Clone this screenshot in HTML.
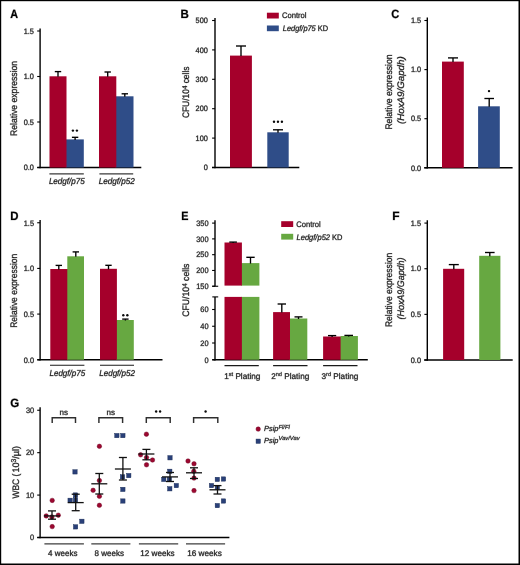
<!DOCTYPE html><html><head><meta charset="utf-8"><style>html,body{margin:0;padding:0;background:#fff;overflow:hidden;}svg{display:block;will-change:transform;} text{text-rendering:geometricPrecision;font-family:"Liberation Sans", sans-serif;}</style></head><body>
<svg width="520" height="565" viewBox="0 0 520 565">
<rect x="0.00" y="0.00" width="520.00" height="565.00" fill="#000"/>
<rect x="1.20" y="1.20" width="517.30" height="562.30" fill="#fff"/>
<g>
<text x="10.18" y="17.85" font-size="12.0" text-anchor="start" font-weight="bold" font-style="normal" fill="#000" stroke="#999" stroke-width="0.60" paint-order="stroke" textLength="7.80" lengthAdjust="spacingAndGlyphs">A</text>
<line x1="40.10" y1="28.40" x2="40.10" y2="168.20" stroke="#000" stroke-width="1.4"/>
<line x1="37.20" y1="31.00" x2="40.10" y2="31.00" stroke="#000" stroke-width="1.1"/>
<text x="33.90" y="33.75" font-size="7.8" text-anchor="end" font-weight="normal" font-style="normal" fill="#1a1a1a" stroke="#999" stroke-width="0.60" paint-order="stroke" textLength="10.19" lengthAdjust="spacingAndGlyphs">1.5</text>
<line x1="37.20" y1="76.50" x2="40.10" y2="76.50" stroke="#000" stroke-width="1.1"/>
<text x="33.90" y="79.25" font-size="7.8" text-anchor="end" font-weight="normal" font-style="normal" fill="#1a1a1a" stroke="#999" stroke-width="0.60" paint-order="stroke" textLength="10.19" lengthAdjust="spacingAndGlyphs">1.0</text>
<line x1="37.20" y1="122.00" x2="40.10" y2="122.00" stroke="#000" stroke-width="1.1"/>
<text x="33.90" y="124.75" font-size="7.8" text-anchor="end" font-weight="normal" font-style="normal" fill="#1a1a1a" stroke="#999" stroke-width="0.60" paint-order="stroke" textLength="10.19" lengthAdjust="spacingAndGlyphs">0.5</text>
<line x1="37.20" y1="167.50" x2="40.10" y2="167.50" stroke="#000" stroke-width="1.1"/>
<text x="33.90" y="170.25" font-size="7.8" text-anchor="end" font-weight="normal" font-style="normal" fill="#1a1a1a" stroke="#999" stroke-width="0.60" paint-order="stroke" textLength="10.19" lengthAdjust="spacingAndGlyphs">0.0</text>
<line x1="37.30" y1="167.50" x2="141.30" y2="167.50" stroke="#000" stroke-width="1.4"/>
<rect x="65.70" y="139.40" width="18.10" height="28.10" fill="#2f4d88"/>
<rect x="49.50" y="76.30" width="17.00" height="91.20" fill="#a5002b"/>
<rect x="115.50" y="96.30" width="18.00" height="71.20" fill="#2f4d88"/>
<rect x="99.00" y="76.30" width="17.30" height="91.20" fill="#a5002b"/>
<line x1="58.00" y1="71.60" x2="58.00" y2="76.80" stroke="#000" stroke-width="1.35"/>
<line x1="54.80" y1="71.60" x2="61.20" y2="71.60" stroke="#000" stroke-width="1.35"/>
<line x1="75.10" y1="137.30" x2="75.10" y2="139.90" stroke="#000" stroke-width="1.35"/>
<line x1="71.90" y1="137.30" x2="78.30" y2="137.30" stroke="#000" stroke-width="1.35"/>
<line x1="107.70" y1="72.00" x2="107.70" y2="76.80" stroke="#000" stroke-width="1.35"/>
<line x1="104.50" y1="72.00" x2="110.90" y2="72.00" stroke="#000" stroke-width="1.35"/>
<line x1="124.80" y1="93.80" x2="124.80" y2="96.80" stroke="#000" stroke-width="1.35"/>
<line x1="121.60" y1="93.80" x2="128.00" y2="93.80" stroke="#000" stroke-width="1.35"/>
<circle cx="72.90" cy="130.60" r="1.2" fill="#0a0a0a"/>
<circle cx="76.90" cy="130.60" r="1.2" fill="#0a0a0a"/>
<line x1="49.40" y1="173.90" x2="83.80" y2="173.90" stroke="#3a3a3a" stroke-width="1.25"/>
<line x1="99.40" y1="173.90" x2="133.20" y2="173.90" stroke="#3a3a3a" stroke-width="1.25"/>
<text x="48.90" y="184.20" font-size="8.5" text-anchor="start" font-weight="normal" font-style="italic" fill="#1a1a1a" stroke="#999" stroke-width="0.60" paint-order="stroke" textLength="35.80" lengthAdjust="spacingAndGlyphs">Ledgf/p75</text>
<text x="98.70" y="184.20" font-size="8.5" text-anchor="start" font-weight="normal" font-style="italic" fill="#1a1a1a" stroke="#999" stroke-width="0.60" paint-order="stroke" textLength="36.00" lengthAdjust="spacingAndGlyphs">Ledgf/p52</text>
<text transform="translate(17.00,135.90) rotate(-90)" x="0" y="0" font-size="9.5" font-style="normal" fill="#1a1a1a" stroke="#999" stroke-width="0.60" paint-order="stroke" textLength="75.00" lengthAdjust="spacingAndGlyphs">Relative expression</text>
<text x="180.48" y="18.00" font-size="12.0" text-anchor="start" font-weight="bold" font-style="normal" fill="#000" stroke="#999" stroke-width="0.60" paint-order="stroke" textLength="8.32" lengthAdjust="spacingAndGlyphs">B</text>
<line x1="215.00" y1="18.00" x2="215.00" y2="168.20" stroke="#000" stroke-width="1.4"/>
<line x1="212.10" y1="20.50" x2="215.00" y2="20.50" stroke="#000" stroke-width="1.1"/>
<text x="207.80" y="23.25" font-size="7.8" text-anchor="end" font-weight="normal" font-style="normal" fill="#1a1a1a" stroke="#999" stroke-width="0.60" paint-order="stroke" textLength="12.23" lengthAdjust="spacingAndGlyphs">500</text>
<line x1="212.10" y1="49.90" x2="215.00" y2="49.90" stroke="#000" stroke-width="1.1"/>
<text x="207.80" y="52.65" font-size="7.8" text-anchor="end" font-weight="normal" font-style="normal" fill="#1a1a1a" stroke="#999" stroke-width="0.60" paint-order="stroke" textLength="12.23" lengthAdjust="spacingAndGlyphs">400</text>
<line x1="212.10" y1="79.30" x2="215.00" y2="79.30" stroke="#000" stroke-width="1.1"/>
<text x="207.80" y="82.05" font-size="7.8" text-anchor="end" font-weight="normal" font-style="normal" fill="#1a1a1a" stroke="#999" stroke-width="0.60" paint-order="stroke" textLength="12.23" lengthAdjust="spacingAndGlyphs">300</text>
<line x1="212.10" y1="108.70" x2="215.00" y2="108.70" stroke="#000" stroke-width="1.1"/>
<text x="207.80" y="111.45" font-size="7.8" text-anchor="end" font-weight="normal" font-style="normal" fill="#1a1a1a" stroke="#999" stroke-width="0.60" paint-order="stroke" textLength="12.23" lengthAdjust="spacingAndGlyphs">200</text>
<line x1="212.10" y1="138.10" x2="215.00" y2="138.10" stroke="#000" stroke-width="1.1"/>
<text x="207.80" y="140.85" font-size="7.8" text-anchor="end" font-weight="normal" font-style="normal" fill="#1a1a1a" stroke="#999" stroke-width="0.60" paint-order="stroke" textLength="12.23" lengthAdjust="spacingAndGlyphs">100</text>
<line x1="212.10" y1="167.50" x2="215.00" y2="167.50" stroke="#000" stroke-width="1.1"/>
<text x="207.80" y="170.25" font-size="7.8" text-anchor="end" font-weight="normal" font-style="normal" fill="#1a1a1a" stroke="#999" stroke-width="0.60" paint-order="stroke" textLength="4.08" lengthAdjust="spacingAndGlyphs">0</text>
<line x1="212.00" y1="167.50" x2="299.30" y2="167.50" stroke="#000" stroke-width="1.4"/>
<rect x="230.00" y="55.60" width="21.90" height="111.90" fill="#a5002b"/>
<rect x="267.30" y="132.30" width="21.40" height="35.20" fill="#2f4d88"/>
<line x1="241.00" y1="46.00" x2="241.00" y2="56.10" stroke="#000" stroke-width="1.35"/>
<line x1="236.00" y1="46.00" x2="246.00" y2="46.00" stroke="#000" stroke-width="1.35"/>
<line x1="278.00" y1="129.80" x2="278.00" y2="132.80" stroke="#000" stroke-width="1.35"/>
<line x1="273.00" y1="129.80" x2="283.00" y2="129.80" stroke="#000" stroke-width="1.35"/>
<circle cx="274.00" cy="121.70" r="1.2" fill="#0a0a0a"/>
<circle cx="277.95" cy="121.70" r="1.2" fill="#0a0a0a"/>
<circle cx="281.90" cy="121.70" r="1.2" fill="#0a0a0a"/>
<rect x="266.90" y="12.70" width="11.90" height="5.80" fill="#a5002b"/>
<rect x="266.90" y="25.50" width="11.90" height="5.70" fill="#2f4d88"/>
<text x="281.90" y="18.30" font-size="8.0" text-anchor="start" font-weight="normal" font-style="normal" fill="#1a1a1a" stroke="#999" stroke-width="0.60" paint-order="stroke" textLength="24.60" lengthAdjust="spacingAndGlyphs">Control</text>
<text x="282.80" y="31.00" font-size="8.0" text-anchor="start" font-weight="normal" font-style="normal" fill="#1a1a1a" stroke="#999" stroke-width="0.60" paint-order="stroke" textLength="45.30" lengthAdjust="spacingAndGlyphs"><tspan font-style="italic">Ledgf/p75</tspan> KD</text>
<text transform="translate(188.80,118.10) rotate(-90)" x="0" y="0" font-size="9.4" font-style="normal" fill="#1a1a1a" stroke="#999" stroke-width="0.60" paint-order="stroke" textLength="51.60" lengthAdjust="spacingAndGlyphs">CFU/10<tspan font-size="6.8" dy="-2.2">4</tspan><tspan dy="2.2"> cells</tspan></text>
<text x="391.20" y="17.85" font-size="12.0" text-anchor="start" font-weight="bold" font-style="normal" fill="#000" stroke="#999" stroke-width="0.60" paint-order="stroke" textLength="7.97" lengthAdjust="spacingAndGlyphs">C</text>
<line x1="427.30" y1="17.50" x2="427.30" y2="168.50" stroke="#000" stroke-width="1.4"/>
<line x1="424.40" y1="20.50" x2="427.30" y2="20.50" stroke="#000" stroke-width="1.1"/>
<text x="421.20" y="23.25" font-size="7.8" text-anchor="end" font-weight="normal" font-style="normal" fill="#1a1a1a" stroke="#999" stroke-width="0.60" paint-order="stroke" textLength="10.19" lengthAdjust="spacingAndGlyphs">1.5</text>
<line x1="424.40" y1="69.60" x2="427.30" y2="69.60" stroke="#000" stroke-width="1.1"/>
<text x="421.20" y="72.35" font-size="7.8" text-anchor="end" font-weight="normal" font-style="normal" fill="#1a1a1a" stroke="#999" stroke-width="0.60" paint-order="stroke" textLength="10.19" lengthAdjust="spacingAndGlyphs">1.0</text>
<line x1="424.40" y1="118.70" x2="427.30" y2="118.70" stroke="#000" stroke-width="1.1"/>
<text x="421.20" y="121.45" font-size="7.8" text-anchor="end" font-weight="normal" font-style="normal" fill="#1a1a1a" stroke="#999" stroke-width="0.60" paint-order="stroke" textLength="10.19" lengthAdjust="spacingAndGlyphs">0.5</text>
<line x1="424.40" y1="167.80" x2="427.30" y2="167.80" stroke="#000" stroke-width="1.1"/>
<text x="421.20" y="170.55" font-size="7.8" text-anchor="end" font-weight="normal" font-style="normal" fill="#1a1a1a" stroke="#999" stroke-width="0.60" paint-order="stroke" textLength="10.19" lengthAdjust="spacingAndGlyphs">0.0</text>
<line x1="424.20" y1="167.80" x2="512.60" y2="167.80" stroke="#000" stroke-width="1.4"/>
<rect x="442.00" y="61.60" width="21.80" height="106.20" fill="#a5002b"/>
<rect x="478.10" y="106.30" width="21.70" height="61.50" fill="#2f4d88"/>
<line x1="453.00" y1="57.90" x2="453.00" y2="62.10" stroke="#000" stroke-width="1.35"/>
<line x1="448.00" y1="57.90" x2="458.00" y2="57.90" stroke="#000" stroke-width="1.35"/>
<line x1="489.20" y1="98.50" x2="489.20" y2="106.80" stroke="#000" stroke-width="1.35"/>
<line x1="484.40" y1="98.50" x2="494.00" y2="98.50" stroke="#000" stroke-width="1.35"/>
<circle cx="489.00" cy="91.10" r="1.2" fill="#0a0a0a"/>
<text transform="translate(391.80,129.60) rotate(-90)" x="0" y="0" font-size="9.5" font-style="normal" fill="#1a1a1a" stroke="#999" stroke-width="0.60" paint-order="stroke" textLength="75.10" lengthAdjust="spacingAndGlyphs">Relative expression</text>
<text transform="translate(403.70,124.00) rotate(-90)" x="0" y="0" font-size="9.5" font-style="italic" fill="#1a1a1a" stroke="#999" stroke-width="0.60" paint-order="stroke" textLength="67.70" lengthAdjust="spacingAndGlyphs">(HoxA9/Gapdh)</text>
<text x="10.29" y="220.10" font-size="12.0" text-anchor="start" font-weight="bold" font-style="normal" fill="#000" stroke="#999" stroke-width="0.60" paint-order="stroke" textLength="8.23" lengthAdjust="spacingAndGlyphs">D</text>
<line x1="40.10" y1="220.00" x2="40.10" y2="360.40" stroke="#000" stroke-width="1.4"/>
<line x1="37.20" y1="222.75" x2="40.10" y2="222.75" stroke="#000" stroke-width="1.1"/>
<text x="34.00" y="225.50" font-size="7.8" text-anchor="end" font-weight="normal" font-style="normal" fill="#1a1a1a" stroke="#999" stroke-width="0.60" paint-order="stroke" textLength="10.19" lengthAdjust="spacingAndGlyphs">1.5</text>
<line x1="37.20" y1="268.42" x2="40.10" y2="268.42" stroke="#000" stroke-width="1.1"/>
<text x="34.00" y="271.17" font-size="7.8" text-anchor="end" font-weight="normal" font-style="normal" fill="#1a1a1a" stroke="#999" stroke-width="0.60" paint-order="stroke" textLength="10.19" lengthAdjust="spacingAndGlyphs">1.0</text>
<line x1="37.20" y1="314.08" x2="40.10" y2="314.08" stroke="#000" stroke-width="1.1"/>
<text x="34.00" y="316.83" font-size="7.8" text-anchor="end" font-weight="normal" font-style="normal" fill="#1a1a1a" stroke="#999" stroke-width="0.60" paint-order="stroke" textLength="10.19" lengthAdjust="spacingAndGlyphs">0.5</text>
<line x1="37.20" y1="359.75" x2="40.10" y2="359.75" stroke="#000" stroke-width="1.1"/>
<text x="34.00" y="362.50" font-size="7.8" text-anchor="end" font-weight="normal" font-style="normal" fill="#1a1a1a" stroke="#999" stroke-width="0.60" paint-order="stroke" textLength="10.19" lengthAdjust="spacingAndGlyphs">0.0</text>
<line x1="37.30" y1="359.75" x2="162.50" y2="359.75" stroke="#000" stroke-width="1.4"/>
<rect x="50.30" y="269.00" width="17.80" height="90.75" fill="#a5002b"/>
<rect x="67.30" y="256.30" width="16.70" height="103.45" fill="#67a841"/>
<rect x="116.10" y="320.00" width="17.70" height="39.75" fill="#67a841"/>
<rect x="100.00" y="268.80" width="16.90" height="90.95" fill="#a5002b"/>
<line x1="58.80" y1="265.40" x2="58.80" y2="269.50" stroke="#000" stroke-width="1.35"/>
<line x1="55.60" y1="265.40" x2="62.00" y2="265.40" stroke="#000" stroke-width="1.35"/>
<line x1="75.80" y1="251.90" x2="75.80" y2="256.80" stroke="#000" stroke-width="1.35"/>
<line x1="72.60" y1="251.90" x2="79.00" y2="251.90" stroke="#000" stroke-width="1.35"/>
<line x1="108.50" y1="265.30" x2="108.50" y2="269.30" stroke="#000" stroke-width="1.35"/>
<line x1="105.30" y1="265.30" x2="111.70" y2="265.30" stroke="#000" stroke-width="1.35"/>
<line x1="125.40" y1="319.10" x2="125.40" y2="320.50" stroke="#000" stroke-width="1.35"/>
<line x1="122.20" y1="319.10" x2="128.60" y2="319.10" stroke="#000" stroke-width="1.35"/>
<circle cx="123.30" cy="315.30" r="1.2" fill="#0a0a0a"/>
<circle cx="127.35" cy="315.30" r="1.2" fill="#0a0a0a"/>
<line x1="50.00" y1="365.30" x2="84.40" y2="365.30" stroke="#1a1a1a" stroke-width="1.1"/>
<line x1="100.00" y1="365.30" x2="134.00" y2="365.30" stroke="#1a1a1a" stroke-width="1.1"/>
<text x="49.50" y="375.50" font-size="8.5" text-anchor="start" font-weight="normal" font-style="italic" fill="#1a1a1a" stroke="#999" stroke-width="0.60" paint-order="stroke" textLength="35.60" lengthAdjust="spacingAndGlyphs">Ledgf/p75</text>
<text x="99.30" y="375.50" font-size="8.5" text-anchor="start" font-weight="normal" font-style="italic" fill="#1a1a1a" stroke="#999" stroke-width="0.60" paint-order="stroke" textLength="35.60" lengthAdjust="spacingAndGlyphs">Ledgf/p52</text>
<text transform="translate(17.00,327.80) rotate(-90)" x="0" y="0" font-size="9.5" font-style="normal" fill="#1a1a1a" stroke="#999" stroke-width="0.60" paint-order="stroke" textLength="74.00" lengthAdjust="spacingAndGlyphs">Relative expression</text>
<text x="181.33" y="220.10" font-size="12.0" text-anchor="start" font-weight="bold" font-style="normal" fill="#000" stroke="#999" stroke-width="0.60" paint-order="stroke" textLength="7.20" lengthAdjust="spacingAndGlyphs">E</text>
<line x1="215.00" y1="220.30" x2="215.00" y2="286.25" stroke="#000" stroke-width="1.4"/>
<line x1="215.00" y1="296.90" x2="215.00" y2="360.40" stroke="#000" stroke-width="1.4"/>
<line x1="212.10" y1="223.10" x2="215.00" y2="223.10" stroke="#000" stroke-width="1.1"/>
<text x="208.60" y="225.85" font-size="7.9" text-anchor="end" font-weight="normal" font-style="normal" fill="#1a1a1a" stroke="#999" stroke-width="0.60" paint-order="stroke" textLength="12.39" lengthAdjust="spacingAndGlyphs">350</text>
<line x1="212.10" y1="238.89" x2="215.00" y2="238.89" stroke="#000" stroke-width="1.1"/>
<text x="208.60" y="241.64" font-size="7.9" text-anchor="end" font-weight="normal" font-style="normal" fill="#1a1a1a" stroke="#999" stroke-width="0.60" paint-order="stroke" textLength="12.39" lengthAdjust="spacingAndGlyphs">300</text>
<line x1="212.10" y1="254.68" x2="215.00" y2="254.68" stroke="#000" stroke-width="1.1"/>
<text x="208.60" y="257.43" font-size="7.9" text-anchor="end" font-weight="normal" font-style="normal" fill="#1a1a1a" stroke="#999" stroke-width="0.60" paint-order="stroke" textLength="12.39" lengthAdjust="spacingAndGlyphs">250</text>
<line x1="212.10" y1="270.46" x2="215.00" y2="270.46" stroke="#000" stroke-width="1.1"/>
<text x="208.60" y="273.21" font-size="7.9" text-anchor="end" font-weight="normal" font-style="normal" fill="#1a1a1a" stroke="#999" stroke-width="0.60" paint-order="stroke" textLength="12.39" lengthAdjust="spacingAndGlyphs">200</text>
<line x1="212.10" y1="286.25" x2="215.00" y2="286.25" stroke="#000" stroke-width="1.1"/>
<text x="208.60" y="289.00" font-size="7.9" text-anchor="end" font-weight="normal" font-style="normal" fill="#1a1a1a" stroke="#999" stroke-width="0.60" paint-order="stroke" textLength="12.39" lengthAdjust="spacingAndGlyphs">150</text>
<line x1="212.10" y1="309.50" x2="215.00" y2="309.50" stroke="#000" stroke-width="1.1"/>
<text x="208.60" y="312.25" font-size="7.9" text-anchor="end" font-weight="normal" font-style="normal" fill="#1a1a1a" stroke="#999" stroke-width="0.60" paint-order="stroke" textLength="8.26" lengthAdjust="spacingAndGlyphs">60</text>
<line x1="212.10" y1="326.25" x2="215.00" y2="326.25" stroke="#000" stroke-width="1.1"/>
<text x="208.60" y="329.00" font-size="7.9" text-anchor="end" font-weight="normal" font-style="normal" fill="#1a1a1a" stroke="#999" stroke-width="0.60" paint-order="stroke" textLength="8.26" lengthAdjust="spacingAndGlyphs">40</text>
<line x1="212.10" y1="343.00" x2="215.00" y2="343.00" stroke="#000" stroke-width="1.1"/>
<text x="208.60" y="345.75" font-size="7.9" text-anchor="end" font-weight="normal" font-style="normal" fill="#1a1a1a" stroke="#999" stroke-width="0.60" paint-order="stroke" textLength="8.26" lengthAdjust="spacingAndGlyphs">20</text>
<line x1="212.10" y1="359.75" x2="215.00" y2="359.75" stroke="#000" stroke-width="1.1"/>
<text x="208.60" y="362.50" font-size="7.9" text-anchor="end" font-weight="normal" font-style="normal" fill="#1a1a1a" stroke="#999" stroke-width="0.60" paint-order="stroke" textLength="4.13" lengthAdjust="spacingAndGlyphs">0</text>
<line x1="212.30" y1="286.25" x2="218.20" y2="286.25" stroke="#000" stroke-width="1.1"/>
<line x1="212.30" y1="296.90" x2="218.20" y2="296.90" stroke="#000" stroke-width="1.1"/>
<line x1="212.30" y1="359.75" x2="367.80" y2="359.75" stroke="#000" stroke-width="1.4"/>
<rect x="241.10" y="263.10" width="18.30" height="22.50" fill="#67a841"/>
<rect x="224.50" y="242.50" width="17.40" height="43.10" fill="#a5002b"/>
<rect x="241.10" y="296.90" width="18.30" height="62.85" fill="#67a841"/>
<rect x="224.50" y="296.90" width="17.40" height="62.85" fill="#a5002b"/>
<line x1="233.10" y1="242.10" x2="233.10" y2="243.00" stroke="#000" stroke-width="1.35"/>
<line x1="229.30" y1="242.10" x2="236.90" y2="242.10" stroke="#000" stroke-width="1.35"/>
<line x1="250.50" y1="257.30" x2="250.50" y2="263.60" stroke="#000" stroke-width="1.35"/>
<line x1="246.30" y1="257.30" x2="254.70" y2="257.30" stroke="#000" stroke-width="1.35"/>
<rect x="289.20" y="318.50" width="18.10" height="41.25" fill="#67a841"/>
<rect x="273.10" y="312.10" width="16.90" height="47.65" fill="#a5002b"/>
<line x1="281.80" y1="304.00" x2="281.80" y2="312.60" stroke="#000" stroke-width="1.35"/>
<line x1="277.60" y1="304.00" x2="286.00" y2="304.00" stroke="#000" stroke-width="1.35"/>
<line x1="298.50" y1="316.90" x2="298.50" y2="319.00" stroke="#000" stroke-width="1.35"/>
<line x1="294.50" y1="316.90" x2="302.50" y2="316.90" stroke="#000" stroke-width="1.35"/>
<rect x="323.10" y="336.50" width="18.30" height="23.25" fill="#a5002b"/>
<rect x="340.60" y="336.00" width="17.30" height="23.75" fill="#67a841"/>
<line x1="332.10" y1="335.60" x2="332.10" y2="337.00" stroke="#000" stroke-width="1.35"/>
<line x1="328.00" y1="335.60" x2="336.20" y2="335.60" stroke="#000" stroke-width="1.35"/>
<line x1="348.70" y1="335.40" x2="348.70" y2="336.50" stroke="#000" stroke-width="1.35"/>
<line x1="344.40" y1="335.40" x2="353.00" y2="335.40" stroke="#000" stroke-width="1.35"/>
<line x1="224.50" y1="365.60" x2="258.80" y2="365.60" stroke="#1a1a1a" stroke-width="1.1"/>
<line x1="273.10" y1="365.60" x2="307.50" y2="365.60" stroke="#1a1a1a" stroke-width="1.1"/>
<line x1="323.10" y1="365.60" x2="357.50" y2="365.60" stroke="#1a1a1a" stroke-width="1.1"/>
<text x="224.20" y="379.10" font-size="8.2" text-anchor="start" font-weight="normal" font-style="normal" fill="#1a1a1a" stroke="#999" stroke-width="0.60" paint-order="stroke">1<tspan font-size="5.6" dy="-3.4">st</tspan><tspan dy="3.4"> Plating</tspan></text>
<text x="271.20" y="379.10" font-size="8.2" text-anchor="start" font-weight="normal" font-style="normal" fill="#1a1a1a" stroke="#999" stroke-width="0.60" paint-order="stroke">2<tspan font-size="5.6" dy="-3.4">nd</tspan><tspan dy="3.4"> Plating</tspan></text>
<text x="321.50" y="379.10" font-size="8.2" text-anchor="start" font-weight="normal" font-style="normal" fill="#1a1a1a" stroke="#999" stroke-width="0.60" paint-order="stroke">3<tspan font-size="5.6" dy="-3.4">rd</tspan><tspan dy="3.4"> Plating</tspan></text>
<rect x="281.20" y="221.20" width="12.00" height="5.80" fill="#a5002b"/>
<rect x="281.20" y="233.80" width="12.00" height="5.80" fill="#67a841"/>
<text x="296.30" y="226.80" font-size="8.0" text-anchor="start" font-weight="normal" font-style="normal" fill="#1a1a1a" stroke="#999" stroke-width="0.60" paint-order="stroke" textLength="24.40" lengthAdjust="spacingAndGlyphs">Control</text>
<text x="296.60" y="239.50" font-size="8.0" text-anchor="start" font-weight="normal" font-style="normal" fill="#1a1a1a" stroke="#999" stroke-width="0.60" paint-order="stroke" textLength="45.90" lengthAdjust="spacingAndGlyphs"><tspan font-style="italic">Ledgf/p52</tspan> KD</text>
<text transform="translate(188.80,316.70) rotate(-90)" x="0" y="0" font-size="9.4" font-style="normal" fill="#1a1a1a" stroke="#999" stroke-width="0.60" paint-order="stroke" textLength="53.10" lengthAdjust="spacingAndGlyphs">CFU/10<tspan font-size="6.8" dy="-2.2">4</tspan><tspan dy="2.2"> cells</tspan></text>
<text x="392.25" y="220.25" font-size="12.0" text-anchor="start" font-weight="bold" font-style="normal" fill="#000" stroke="#999" stroke-width="0.60" paint-order="stroke" textLength="7.33" lengthAdjust="spacingAndGlyphs">F</text>
<line x1="427.30" y1="220.30" x2="427.30" y2="360.70" stroke="#000" stroke-width="1.4"/>
<line x1="424.40" y1="223.09" x2="427.30" y2="223.09" stroke="#000" stroke-width="1.1"/>
<text x="421.00" y="225.84" font-size="7.8" text-anchor="end" font-weight="normal" font-style="normal" fill="#1a1a1a" stroke="#999" stroke-width="0.60" paint-order="stroke" textLength="10.19" lengthAdjust="spacingAndGlyphs">1.5</text>
<line x1="424.40" y1="268.73" x2="427.30" y2="268.73" stroke="#000" stroke-width="1.1"/>
<text x="421.00" y="271.48" font-size="7.8" text-anchor="end" font-weight="normal" font-style="normal" fill="#1a1a1a" stroke="#999" stroke-width="0.60" paint-order="stroke" textLength="10.19" lengthAdjust="spacingAndGlyphs">1.0</text>
<line x1="424.40" y1="314.37" x2="427.30" y2="314.37" stroke="#000" stroke-width="1.1"/>
<text x="421.00" y="317.12" font-size="7.8" text-anchor="end" font-weight="normal" font-style="normal" fill="#1a1a1a" stroke="#999" stroke-width="0.60" paint-order="stroke" textLength="10.19" lengthAdjust="spacingAndGlyphs">0.5</text>
<line x1="424.40" y1="360.00" x2="427.30" y2="360.00" stroke="#000" stroke-width="1.1"/>
<text x="421.00" y="362.75" font-size="7.8" text-anchor="end" font-weight="normal" font-style="normal" fill="#1a1a1a" stroke="#999" stroke-width="0.60" paint-order="stroke" textLength="10.19" lengthAdjust="spacingAndGlyphs">0.0</text>
<line x1="424.20" y1="360.00" x2="512.70" y2="360.00" stroke="#000" stroke-width="1.4"/>
<rect x="443.10" y="268.80" width="21.10" height="91.20" fill="#a5002b"/>
<rect x="479.20" y="255.80" width="21.20" height="104.20" fill="#67a841"/>
<line x1="453.80" y1="264.60" x2="453.80" y2="269.30" stroke="#000" stroke-width="1.35"/>
<line x1="448.80" y1="264.60" x2="458.80" y2="264.60" stroke="#000" stroke-width="1.35"/>
<line x1="489.80" y1="252.50" x2="489.80" y2="256.30" stroke="#000" stroke-width="1.35"/>
<line x1="485.00" y1="252.50" x2="494.60" y2="252.50" stroke="#000" stroke-width="1.35"/>
<text transform="translate(391.50,327.10) rotate(-90)" x="0" y="0" font-size="9.5" font-style="normal" fill="#1a1a1a" stroke="#999" stroke-width="0.60" paint-order="stroke" textLength="74.35" lengthAdjust="spacingAndGlyphs">Relative expression</text>
<text transform="translate(403.70,319.50) rotate(-90)" x="0" y="0" font-size="9.5" font-style="italic" fill="#1a1a1a" stroke="#999" stroke-width="0.60" paint-order="stroke" textLength="62.00" lengthAdjust="spacingAndGlyphs">(HoxA9/Gapdh)</text>
<text x="10.18" y="407.05" font-size="12.0" text-anchor="start" font-weight="bold" font-style="normal" fill="#000" stroke="#999" stroke-width="0.60" paint-order="stroke" textLength="8.96" lengthAdjust="spacingAndGlyphs">G</text>
<line x1="40.10" y1="407.30" x2="40.10" y2="538.20" stroke="#000" stroke-width="1.4"/>
<line x1="37.20" y1="410.25" x2="40.10" y2="410.25" stroke="#000" stroke-width="1.1"/>
<text x="34.20" y="413.00" font-size="7.9" text-anchor="end" font-weight="normal" font-style="normal" fill="#1a1a1a" stroke="#999" stroke-width="0.60" paint-order="stroke" textLength="8.26" lengthAdjust="spacingAndGlyphs">30</text>
<line x1="37.20" y1="452.67" x2="40.10" y2="452.67" stroke="#000" stroke-width="1.1"/>
<text x="34.20" y="455.42" font-size="7.9" text-anchor="end" font-weight="normal" font-style="normal" fill="#1a1a1a" stroke="#999" stroke-width="0.60" paint-order="stroke" textLength="8.26" lengthAdjust="spacingAndGlyphs">20</text>
<line x1="37.20" y1="495.08" x2="40.10" y2="495.08" stroke="#000" stroke-width="1.1"/>
<text x="34.20" y="497.83" font-size="7.9" text-anchor="end" font-weight="normal" font-style="normal" fill="#1a1a1a" stroke="#999" stroke-width="0.60" paint-order="stroke" textLength="8.26" lengthAdjust="spacingAndGlyphs">10</text>
<line x1="37.20" y1="537.50" x2="40.10" y2="537.50" stroke="#000" stroke-width="1.1"/>
<text x="34.20" y="540.25" font-size="7.9" text-anchor="end" font-weight="normal" font-style="normal" fill="#1a1a1a" stroke="#999" stroke-width="0.60" paint-order="stroke" textLength="4.13" lengthAdjust="spacingAndGlyphs">0</text>
<line x1="37.30" y1="537.50" x2="229.40" y2="537.50" stroke="#000" stroke-width="1.4"/>
<line x1="44.40" y1="543.90" x2="83.90" y2="543.90" stroke="#3e3e3e" stroke-width="1.2"/>
<line x1="91.30" y1="543.90" x2="130.40" y2="543.90" stroke="#3e3e3e" stroke-width="1.2"/>
<line x1="138.90" y1="543.90" x2="178.20" y2="543.90" stroke="#3e3e3e" stroke-width="1.2"/>
<line x1="186.00" y1="543.90" x2="225.10" y2="543.90" stroke="#3e3e3e" stroke-width="1.2"/>
<text x="48.10" y="555.60" font-size="8.2" text-anchor="start" font-weight="normal" font-style="normal" fill="#1a1a1a" stroke="#999" stroke-width="0.60" paint-order="stroke" textLength="29.30" lengthAdjust="spacingAndGlyphs">4 weeks</text>
<text x="94.60" y="555.60" font-size="8.2" text-anchor="start" font-weight="normal" font-style="normal" fill="#1a1a1a" stroke="#999" stroke-width="0.60" paint-order="stroke" textLength="29.30" lengthAdjust="spacingAndGlyphs">8 weeks</text>
<text x="140.20" y="555.60" font-size="8.2" text-anchor="start" font-weight="normal" font-style="normal" fill="#1a1a1a" stroke="#999" stroke-width="0.60" paint-order="stroke" textLength="34.40" lengthAdjust="spacingAndGlyphs">12 weeks</text>
<text x="187.20" y="555.60" font-size="8.2" text-anchor="start" font-weight="normal" font-style="normal" fill="#1a1a1a" stroke="#999" stroke-width="0.60" paint-order="stroke" textLength="34.60" lengthAdjust="spacingAndGlyphs">16 weeks</text>
<polyline points="52.20,423.1 52.20,417.7 75.50,417.7 75.50,423.1" fill="none" stroke="#2e2e2e" stroke-width="1.45"/>
<text x="63.85" y="415.40" font-size="8.0" text-anchor="middle" font-weight="normal" font-style="normal" fill="#1a1a1a" stroke="#999" stroke-width="0.60" paint-order="stroke">ns</text>
<polyline points="98.90,423.1 98.90,417.7 122.60,417.7 122.60,423.1" fill="none" stroke="#2e2e2e" stroke-width="1.45"/>
<text x="110.75" y="415.40" font-size="8.0" text-anchor="middle" font-weight="normal" font-style="normal" fill="#1a1a1a" stroke="#999" stroke-width="0.60" paint-order="stroke">ns</text>
<polyline points="146.30,423.1 146.30,417.7 170.20,417.7 170.20,423.1" fill="none" stroke="#2e2e2e" stroke-width="1.45"/>
<circle cx="156.15" cy="411.50" r="1.2" fill="#0a0a0a"/>
<circle cx="160.10" cy="411.50" r="1.2" fill="#0a0a0a"/>
<polyline points="193.60,423.1 193.60,417.7 217.80,417.7 217.80,423.1" fill="none" stroke="#2e2e2e" stroke-width="1.45"/>
<circle cx="205.60" cy="411.50" r="1.2" fill="#0a0a0a"/>
<circle cx="52.20" cy="500.40" r="2.25" fill="#9c0830" stroke="#6e0424" stroke-width="0.45"/>
<circle cx="46.20" cy="515.90" r="2.25" fill="#9c0830" stroke="#6e0424" stroke-width="0.45"/>
<circle cx="51.90" cy="516.90" r="2.25" fill="#9c0830" stroke="#6e0424" stroke-width="0.45"/>
<circle cx="58.30" cy="515.20" r="2.25" fill="#9c0830" stroke="#6e0424" stroke-width="0.45"/>
<circle cx="52.20" cy="526.60" r="2.25" fill="#9c0830" stroke="#6e0424" stroke-width="0.45"/>
<line x1="44.00" y1="515.90" x2="60.00" y2="515.90" stroke="#111" stroke-width="1.3"/>
<line x1="52.00" y1="510.90" x2="52.00" y2="519.20" stroke="#111" stroke-width="1.3"/>
<line x1="48.00" y1="510.90" x2="56.00" y2="510.90" stroke="#111" stroke-width="1.3"/>
<line x1="48.00" y1="519.20" x2="56.00" y2="519.20" stroke="#111" stroke-width="1.3"/>
<rect x="72.85" y="469.75" width="4.30" height="4.30" fill="#2a4079" stroke="#182a55" stroke-width="0.45"/>
<rect x="67.95" y="498.15" width="4.30" height="4.30" fill="#2a4079" stroke="#182a55" stroke-width="0.45"/>
<rect x="73.35" y="497.75" width="4.30" height="4.30" fill="#2a4079" stroke="#182a55" stroke-width="0.45"/>
<rect x="73.35" y="492.85" width="4.30" height="4.30" fill="#2a4079" stroke="#182a55" stroke-width="0.45"/>
<rect x="79.75" y="519.15" width="4.30" height="4.30" fill="#2a4079" stroke="#182a55" stroke-width="0.45"/>
<rect x="73.45" y="524.75" width="4.30" height="4.30" fill="#2a4079" stroke="#182a55" stroke-width="0.45"/>
<line x1="67.70" y1="502.60" x2="83.70" y2="502.60" stroke="#111" stroke-width="1.3"/>
<line x1="75.70" y1="494.20" x2="75.70" y2="510.70" stroke="#111" stroke-width="1.3"/>
<line x1="71.70" y1="494.20" x2="79.70" y2="494.20" stroke="#111" stroke-width="1.3"/>
<line x1="71.70" y1="510.70" x2="79.70" y2="510.70" stroke="#111" stroke-width="1.3"/>
<circle cx="99.40" cy="446.30" r="2.25" fill="#9c0830" stroke="#6e0424" stroke-width="0.45"/>
<circle cx="99.40" cy="480.60" r="2.25" fill="#9c0830" stroke="#6e0424" stroke-width="0.45"/>
<circle cx="93.10" cy="490.30" r="2.25" fill="#9c0830" stroke="#6e0424" stroke-width="0.45"/>
<circle cx="99.40" cy="496.30" r="2.25" fill="#9c0830" stroke="#6e0424" stroke-width="0.45"/>
<circle cx="99.40" cy="505.30" r="2.25" fill="#9c0830" stroke="#6e0424" stroke-width="0.45"/>
<line x1="91.30" y1="483.80" x2="107.30" y2="483.80" stroke="#111" stroke-width="1.3"/>
<line x1="99.30" y1="473.50" x2="99.30" y2="494.00" stroke="#111" stroke-width="1.3"/>
<line x1="95.30" y1="473.50" x2="103.30" y2="473.50" stroke="#111" stroke-width="1.3"/>
<line x1="95.30" y1="494.00" x2="103.30" y2="494.00" stroke="#111" stroke-width="1.3"/>
<rect x="114.75" y="433.45" width="4.30" height="4.30" fill="#2a4079" stroke="#182a55" stroke-width="0.45"/>
<rect x="120.75" y="433.45" width="4.30" height="4.30" fill="#2a4079" stroke="#182a55" stroke-width="0.45"/>
<rect x="126.65" y="473.45" width="4.30" height="4.30" fill="#2a4079" stroke="#182a55" stroke-width="0.45"/>
<rect x="120.35" y="474.75" width="4.30" height="4.30" fill="#2a4079" stroke="#182a55" stroke-width="0.45"/>
<rect x="120.75" y="487.25" width="4.30" height="4.30" fill="#2a4079" stroke="#182a55" stroke-width="0.45"/>
<rect x="120.75" y="498.85" width="4.30" height="4.30" fill="#2a4079" stroke="#182a55" stroke-width="0.45"/>
<line x1="114.90" y1="469.00" x2="130.90" y2="469.00" stroke="#111" stroke-width="1.3"/>
<line x1="122.90" y1="457.50" x2="122.90" y2="480.00" stroke="#111" stroke-width="1.3"/>
<line x1="118.90" y1="457.50" x2="126.90" y2="457.50" stroke="#111" stroke-width="1.3"/>
<line x1="118.90" y1="480.00" x2="126.90" y2="480.00" stroke="#111" stroke-width="1.3"/>
<circle cx="146.40" cy="434.20" r="2.25" fill="#9c0830" stroke="#6e0424" stroke-width="0.45"/>
<circle cx="140.60" cy="454.80" r="2.25" fill="#9c0830" stroke="#6e0424" stroke-width="0.45"/>
<circle cx="146.50" cy="457.50" r="2.25" fill="#9c0830" stroke="#6e0424" stroke-width="0.45"/>
<circle cx="152.50" cy="460.00" r="2.25" fill="#9c0830" stroke="#6e0424" stroke-width="0.45"/>
<circle cx="146.50" cy="464.80" r="2.25" fill="#9c0830" stroke="#6e0424" stroke-width="0.45"/>
<line x1="138.40" y1="454.00" x2="154.40" y2="454.00" stroke="#111" stroke-width="1.3"/>
<line x1="146.40" y1="449.40" x2="146.40" y2="459.80" stroke="#111" stroke-width="1.3"/>
<line x1="142.40" y1="449.40" x2="150.40" y2="449.40" stroke="#111" stroke-width="1.3"/>
<line x1="142.40" y1="459.80" x2="150.40" y2="459.80" stroke="#111" stroke-width="1.3"/>
<rect x="167.85" y="455.65" width="4.30" height="4.30" fill="#2a4079" stroke="#182a55" stroke-width="0.45"/>
<rect x="161.65" y="477.25" width="4.30" height="4.30" fill="#2a4079" stroke="#182a55" stroke-width="0.45"/>
<rect x="167.25" y="477.25" width="4.30" height="4.30" fill="#2a4079" stroke="#182a55" stroke-width="0.45"/>
<rect x="167.65" y="469.15" width="4.30" height="4.30" fill="#2a4079" stroke="#182a55" stroke-width="0.45"/>
<rect x="174.15" y="483.45" width="4.30" height="4.30" fill="#2a4079" stroke="#182a55" stroke-width="0.45"/>
<rect x="167.65" y="486.65" width="4.30" height="4.30" fill="#2a4079" stroke="#182a55" stroke-width="0.45"/>
<line x1="162.00" y1="476.90" x2="178.00" y2="476.90" stroke="#111" stroke-width="1.3"/>
<line x1="170.00" y1="472.50" x2="170.00" y2="481.50" stroke="#111" stroke-width="1.3"/>
<line x1="166.00" y1="472.50" x2="174.00" y2="472.50" stroke="#111" stroke-width="1.3"/>
<line x1="166.00" y1="481.50" x2="174.00" y2="481.50" stroke="#111" stroke-width="1.3"/>
<circle cx="188.00" cy="461.00" r="2.25" fill="#9c0830" stroke="#6e0424" stroke-width="0.45"/>
<circle cx="194.00" cy="463.80" r="2.25" fill="#9c0830" stroke="#6e0424" stroke-width="0.45"/>
<circle cx="193.80" cy="471.30" r="2.25" fill="#9c0830" stroke="#6e0424" stroke-width="0.45"/>
<circle cx="194.00" cy="478.10" r="2.25" fill="#9c0830" stroke="#6e0424" stroke-width="0.45"/>
<circle cx="194.00" cy="490.60" r="2.25" fill="#9c0830" stroke="#6e0424" stroke-width="0.45"/>
<line x1="186.00" y1="472.80" x2="202.00" y2="472.80" stroke="#111" stroke-width="1.3"/>
<line x1="194.00" y1="467.80" x2="194.00" y2="478.50" stroke="#111" stroke-width="1.3"/>
<line x1="190.00" y1="467.80" x2="198.00" y2="467.80" stroke="#111" stroke-width="1.3"/>
<line x1="190.00" y1="478.50" x2="198.00" y2="478.50" stroke="#111" stroke-width="1.3"/>
<rect x="215.15" y="477.25" width="4.30" height="4.30" fill="#2a4079" stroke="#182a55" stroke-width="0.45"/>
<rect x="221.35" y="476.85" width="4.30" height="4.30" fill="#2a4079" stroke="#182a55" stroke-width="0.45"/>
<rect x="209.35" y="483.45" width="4.30" height="4.30" fill="#2a4079" stroke="#182a55" stroke-width="0.45"/>
<rect x="215.15" y="485.35" width="4.30" height="4.30" fill="#2a4079" stroke="#182a55" stroke-width="0.45"/>
<rect x="221.35" y="498.85" width="4.30" height="4.30" fill="#2a4079" stroke="#182a55" stroke-width="0.45"/>
<rect x="215.15" y="503.45" width="4.30" height="4.30" fill="#2a4079" stroke="#182a55" stroke-width="0.45"/>
<line x1="209.50" y1="489.80" x2="225.50" y2="489.80" stroke="#111" stroke-width="1.3"/>
<line x1="217.50" y1="485.60" x2="217.50" y2="494.00" stroke="#111" stroke-width="1.3"/>
<line x1="213.50" y1="485.60" x2="221.50" y2="485.60" stroke="#111" stroke-width="1.3"/>
<line x1="213.50" y1="494.00" x2="221.50" y2="494.00" stroke="#111" stroke-width="1.3"/>
<circle cx="258.20" cy="429.10" r="2.25" fill="#9c0830" stroke="#6e0424" stroke-width="0.45"/>
<rect x="256.05" y="439.05" width="4.30" height="4.30" fill="#2a4079" stroke="#182a55" stroke-width="0.45"/>
<text x="264.10" y="431.30" font-size="7.4" text-anchor="start" font-weight="normal" font-style="italic" fill="#1a1a1a" stroke="#999" stroke-width="0.60" paint-order="stroke">Psip<tspan font-size="5.8" dy="-2.5">Fl/Fl</tspan></text>
<text x="264.10" y="442.80" font-size="7.4" text-anchor="start" font-weight="normal" font-style="italic" fill="#1a1a1a" stroke="#999" stroke-width="0.60" paint-order="stroke">Psip<tspan font-size="5.8" dy="-2.6">Vav/Vav</tspan></text>
<text transform="translate(19.20,498.60) rotate(-90)" x="0" y="0" font-size="9.4" font-style="normal" fill="#1a1a1a" stroke="#999" stroke-width="0.60" paint-order="stroke" textLength="25.00" lengthAdjust="spacingAndGlyphs">WBC (</text>
<text transform="translate(19.20,472.60) rotate(-90)" x="0" y="0" font-size="9.4" font-style="normal" fill="#1a1a1a" stroke="#999" stroke-width="0.60" paint-order="stroke" textLength="26.70" lengthAdjust="spacingAndGlyphs">10<tspan font-size="7" dy="-3.5">3</tspan><tspan dy="3.5">/µl)</tspan></text>
</g></svg></body></html>
